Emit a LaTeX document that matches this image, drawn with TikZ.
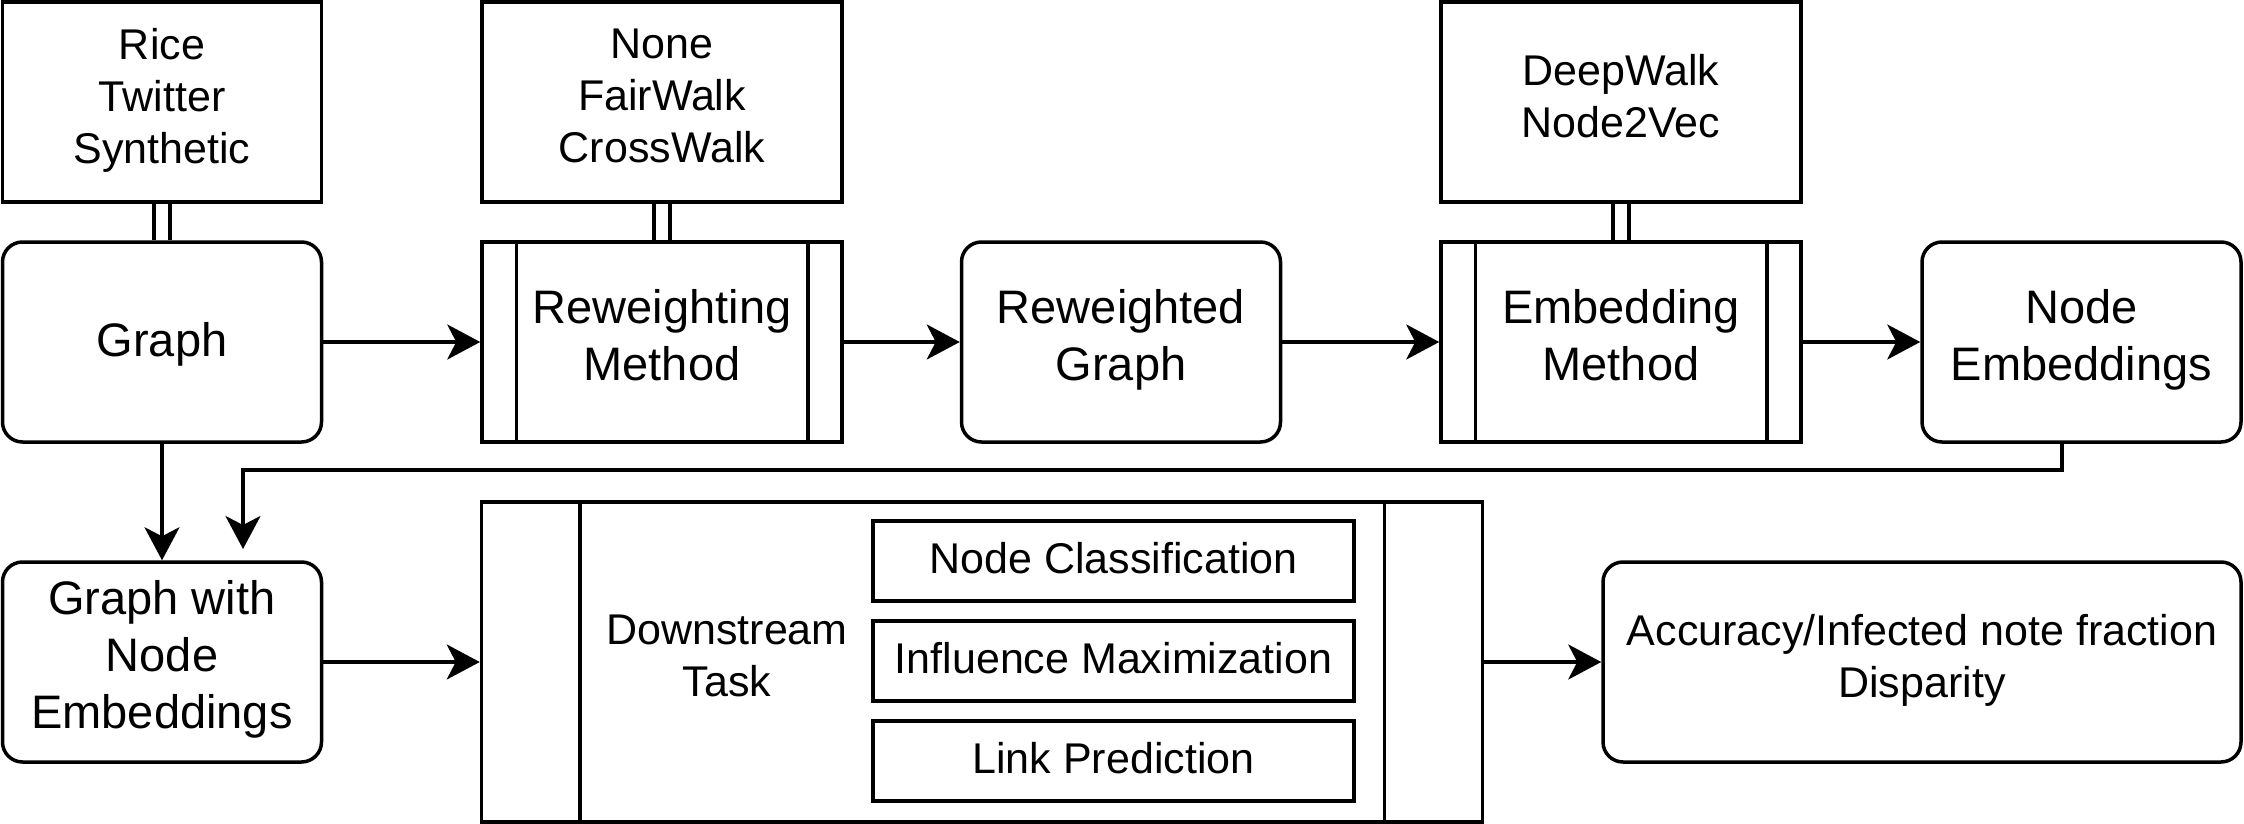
\documentclass[tikz,border=0pt]{standalone}
\usepackage{fontspec}
\setmainfont{Liberation Sans}
\usetikzlibrary{arrows.meta}
\newcommand\linestrut{\rule[-0.3em]{0pt}{1.2em}}
\begin{document}
\begin{tikzpicture}[x=0.5pt,y=-0.5pt,
  lw/.style={line width=1.75pt},
  box/.style={draw, lw, rectangle, inner sep=0pt, align=center,
    execute at begin node=\linestrut, execute at end node=\linestrut},
  rbox/.style={box, rounded corners=10pt},
  big/.style={font=\fontsize{23.5}{28.5}\selectfont},
  small/.style={font=\fontsize{21.5}{26}\selectfont},
  wide/.style={minimum width=180pt, minimum height=100pt},
  narrow/.style={minimum width=159.5pt, minimum height=100pt},
  task/.style={box, small, minimum width=240.5pt, minimum height=40pt},
  arr/.style={lw, -{Stealth[length=16.5pt,width=17.5pt,inset=4.5pt]}},
  dbl/.style={line width=1.6pt, double, double distance=6.4pt},
]
\useasboundingbox (0,0) rectangle (2244,824);

% top row
\node[box, small, narrow] (rice) at (162,102) {Rice\\Twitter\\Synthetic};
\node[box, small, wide] (none) at (662,102) {None\\FairWalk\\CrossWalk};
\node[box, small, wide] (deep) at (1621,102) {DeepWalk\\Node2Vec};

% middle row
\node[rbox, big, narrow] (graph) at (162,342) {Graph};
\node[box, big, wide] (rw) at (662,342) {Reweighting\\Method};
\node[rbox, big, narrow] (rwg) at (1121,342) {Reweighted\\Graph};
\node[box, big, wide] (em) at (1621,342) {Embedding\\Method};
\node[rbox, big, narrow] (ne) at (2081.5,342) {Node\\Embeddings};

\foreach \n in {rw,em}{
  \draw[lw] ([xshift=18pt]\n.north west) -- ([xshift=18pt]\n.south west);
  \draw[lw] ([xshift=-18pt]\n.north east) -- ([xshift=-18pt]\n.south east);
}

% bottom row
\node[rbox, big, narrow] (gne) at (162,662) {Graph with\\Node\\Embeddings};
\node[box, minimum width=500.5pt, minimum height=160pt] (ds) at (982,662) {};
\draw[lw] ([xshift=50pt]ds.north west) -- ([xshift=50pt]ds.south west);
\draw[lw] ([xshift=-50pt]ds.north east) -- ([xshift=-50pt]ds.south east);
\node[small, align=center, inner sep=0pt,
  execute at begin node=\linestrut, execute at end node=\linestrut] (dst) at (727,662) {Downstream\\Task};
\node[task] (nc) at (1113.5,561) {Node Classification};
\node[task] (im) at (1113.5,661) {Influence Maximization};
\node[task] (lp) at (1113.5,761) {Link Prediction};
\node[rbox, small, minimum width=319pt, minimum height=100pt] (acc) at (1922,662) {Accuracy/Infected note fraction\\Disparity};

% double connectors
\draw[dbl] (rice.south) -- (graph.north);
\draw[dbl] (none.south) -- (rw.north);
\draw[dbl] (deep.south) -- (em.north);

% arrows
\draw[arr] (graph.east) -- (rw.west);
\draw[arr] (rw.east) -- (rwg.west);
\draw[arr] (rwg.east) -- (em.west);
\draw[arr] (em.east) -- (ne.west);
\draw[arr] (graph.south) -- (gne.north);
\coordinate (fbend) at (243,549);
\draw[arr] ([xshift=-9.75pt]ne.south) -- ++(0,26) -| (fbend);
\draw[arr] (gne.east) -- (ds.west);
\draw[arr] (ds.east) -- (acc.west);
\end{tikzpicture}
\end{document}
